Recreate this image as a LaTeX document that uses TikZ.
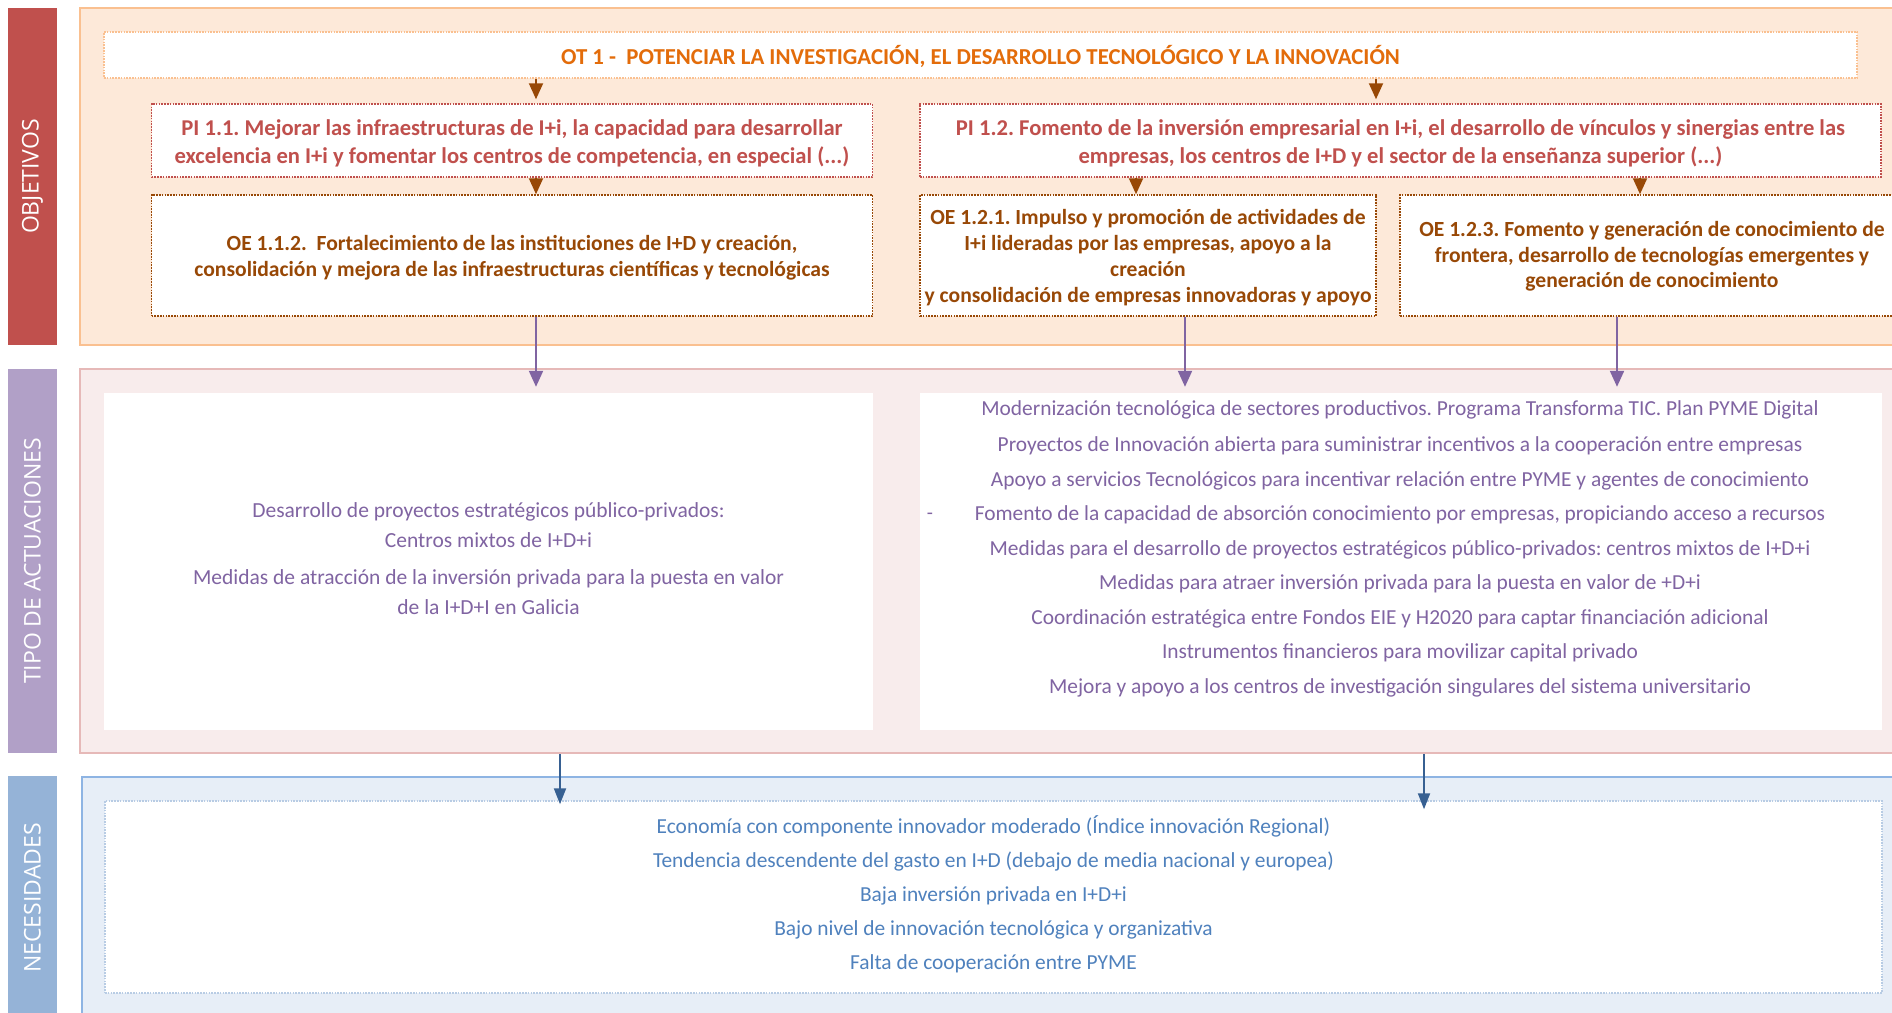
\documentclass[tikz,border=0pt]{standalone}
\usepackage{fontspec}
\setmainfont{Carlito}
\newfontfamily\barfont{Open Sans}
\usetikzlibrary{arrows.meta,calc}
\frenchspacing
\definecolor{objbar}{HTML}{C0504D}
\definecolor{actbar}{HTML}{B1A0C7}
\definecolor{necbar}{HTML}{95B3D7}
\definecolor{objfill}{HTML}{FDE9D9}
\definecolor{objline}{HTML}{FAC090}
\definecolor{actfill}{HTML}{F8ECEC}
\definecolor{actline}{HTML}{E6B9B8}
\definecolor{necfill}{HTML}{E7EEF7}
\definecolor{necline}{HTML}{8EB4E3}
\definecolor{otcol}{HTML}{E36C0A}
\definecolor{picol}{HTML}{C0504D}
\definecolor{oecol}{HTML}{984806}
\definecolor{actcol}{HTML}{8064A2}
\definecolor{neccol}{HTML}{4F81BD}
\definecolor{necarrow}{HTML}{376092}
\definecolor{necdot}{HTML}{B8CCE4}
\tikzset{
  panel/.style={rectangle, inner sep=0pt, line width=2pt},
  sidebar/.style={rectangle, inner sep=0pt, draw=none},
  barlabel/.style={text=white, rotate=90, font=\barfont\fontsize{23}{26}\selectfont},
  dotbox/.style={rectangle, inner sep=0pt, fill=white, line width=1.5pt, dash pattern=on 1.6pt off 1.2pt},
  plainbox/.style={rectangle, inner sep=0pt, fill=white, draw=none},
  txt/.style={align=center, inner sep=0pt},
  brarr/.style={draw=oecol, line width=2pt, -{Triangle[length=16pt,width=14pt]}, oecol},
  purarr/.style={draw=actcol, line width=2pt, -{Triangle[length=16pt,width=14pt]}, actcol},
  bluarr/.style={draw=necarrow, line width=2pt, -{Triangle[length=16pt,width=12pt]}, necarrow},
}
\begin{document}
\begin{tikzpicture}[x=1pt,y=-1pt]
\useasboundingbox (0,0) rectangle (1892,1012);
\begin{scope}
\clip (0,0) rectangle (1892,1012);
% side bars
\node[sidebar, fill=objbar, minimum width=49pt, minimum height=337pt] (barobj) at (32.5,176.5) {};
\node[sidebar, fill=actbar, minimum width=49pt, minimum height=384pt] (baract) at (32.5,561) {};
\node[sidebar, fill=necbar, minimum width=49pt, minimum height=244pt] (barnec) at (32.5,898) {};
\node[barlabel] (lblobj) at (barobj.center) {OBJETIVOS};
\node[barlabel] (lblact) at (baract.center) {TIPO DE ACTUACIONES};
\node[barlabel] (lblnec) at (barnec.center) {NECESIDADES};
% panels
\node[panel, fill=objfill, draw=objline, minimum width=1830pt, minimum height=337pt] (pobj) at (995,176.5) {};
\node[panel, fill=actfill, draw=actline, minimum width=1830pt, minimum height=384pt] (pact) at (995,561) {};
\node[panel, fill=necfill, draw=necline, minimum width=1830pt, minimum height=250pt] (pnec) at (997,902) {};
% objectives boxes
\node[dotbox, draw=objline, minimum width=1753pt, minimum height=46pt] (ot) at (980.5,55) {};
\node[dotbox, draw=picol, minimum width=721pt, minimum height=73pt] (pi11) at (512,140.5) {};
\node[dotbox, draw=picol, minimum width=961pt, minimum height=73pt] (pi12) at (1400.5,140.5) {};
\node[dotbox, draw=oecol, minimum width=721pt, minimum height=121pt] (oe112) at (512,255.5) {};
\node[dotbox, draw=oecol, minimum width=456pt, minimum height=121pt] (oe121) at (1148,255.5) {};
\node[dotbox, draw=oecol, minimum width=504pt, minimum height=121pt] (oe123) at (1652,255.5) {};
\node[txt, text=otcol, font=\bfseries\fontsize{22.8}{26}\selectfont] (ott) at ([yshift=-1pt]ot.center)
  {OT 1 -\ \ POTENCIAR LA INVESTIGACIÓN, EL DESARROLLO TECNOLÓGICO Y LA INNOVACIÓN};
\node[txt, text=picol, font=\bfseries\fontsize{22.6}{28}\selectfont] (pi11t) at ([yshift=-3pt]pi11.center)
  {PI 1.1. Mejorar las infraestructuras de I+i, la capacidad para desarrollar\\
   excelencia en I+i y fomentar los centros de competencia, en especial (...)};
\node[txt, text=picol, font=\bfseries\fontsize{22.6}{28}\selectfont] (pi12t) at ([yshift=-3pt]pi12.center)
  {PI 1.2. Fomento de la inversión empresarial en I+i, el desarrollo de vínculos y sinergias entre las\\
   empresas, los centros de I+D y el sector de la enseñanza superior (...)};
\node[txt, text=oecol, font=\bfseries\fontsize{21.6}{26}\selectfont] (oe112t) at ([yshift=-2.5pt]oe112.center)
  {OE 1.1.2.\ \ Fortalecimiento de las instituciones de I+D y creación,\\
   consolidación y mejora de las infraestructuras científicas y tecnológicas};
\node[txt, text=oecol, font=\bfseries\fontsize{21.6}{26}\selectfont] (oe121t) at ([yshift=-2pt]oe121.center)
  {OE 1.2.1. Impulso y promoción de actividades de\\
   I+i lideradas por las empresas, apoyo a la\\
   creación\\
   y consolidación de empresas innovadoras y apoyo};
\node[txt, text=oecol, font=\bfseries\fontsize{21.6}{25.5}\selectfont] (oe123t) at ([yshift=-1pt]oe123.center)
  {OE 1.2.3. Fomento y generación de conocimiento de\\
   frontera, desarrollo de tecnologías emergentes y\\
   generación de conocimiento};
% actuaciones boxes
\node[plainbox, minimum width=769pt, minimum height=337pt] (actL) at (488.5,561.5) {};
\node[txt, text=actcol, font=\fontsize{21.5}{30}\selectfont] (actLtext) at ([yshift=2.5pt]actL.center)
  {Desarrollo de proyectos estratégicos público-privados:\\
   Centros mixtos de I+D+i\\[7pt]
   Medidas de atracción de la inversión privada para la puesta en valor\\
   de la I+D+I en Galicia};
\node[plainbox, minimum width=962pt, minimum height=337pt] (actR) at (1401,561.5) {};
\node[txt, text=actcol, font=\fontsize{21.4}{34.5}\selectfont] (actRtext) at (1400,549)
  {Modernización tecnológica de sectores productivos. Programa Transforma TIC. Plan PYME Digital\\[1.5pt]
   Proyectos de Innovación abierta para suministrar incentivos a la cooperación entre empresas\\
   Apoyo a servicios Tecnológicos para incentivar relación entre PYME y agentes de conocimiento\\
   Fomento de la capacidad de absorción conocimiento por empresas, propiciando acceso a recursos\\
   Medidas para el desarrollo de proyectos estratégicos público-privados: centros mixtos de I+D+i\\
   Medidas para atraer inversión privada para la puesta en valor de +D+i\\
   Coordinación estratégica entre Fondos EIE y H2020 para captar financiación adicional\\
   Instrumentos financieros para movilizar capital privado\\
   Mejora y apoyo a los centros de investigación singulares del sistema universitario};
\node[text=actcol, font=\fontsize{20}{24}\selectfont, inner sep=0pt] (dash) at (930,516) {-};
% necesidades box
\node[dotbox, draw=necdot, fill=white, minimum width=1777pt, minimum height=192pt] (nec) at (993.5,897) {};
\node[txt, text=neccol, font=\fontsize{21.4}{34}\selectfont] (nect) at ([yshift=2.5pt]nec.center)
  {Economía con componente innovador moderado (Índice innovación Regional)\\
   Tendencia descendente del gasto en I+D (debajo de media nacional y europea)\\
   Baja inversión privada en I+D+i\\
   Bajo nivel de innovación tecnológica y organizativa\\
   Falta de cooperación entre PYME};
% arrow columns
\coordinate (ca) at (536,0);
\coordinate (cb) at (1376,0);
\coordinate (cc) at (1136,0);
\coordinate (cd) at (1640,0);
\coordinate (ce) at (1185,0);
\coordinate (cf) at (1617,0);
\coordinate (cg) at (560,0);
\coordinate (ch) at (1424,0);
\draw[brarr, shorten >=4pt] (ot.south -| ca) -- (pi11.north -| ca);
\draw[brarr, shorten >=4pt] (ot.south -| cb) -- (pi12.north -| cb);
\draw[brarr] (pi11.south -| ca) -- (oe112.north -| ca);
\draw[brarr] (pi12.south -| cc) -- (oe121.north -| cc);
\draw[brarr] (pi12.south -| cd) -- (oe123.north -| cd);
\draw[purarr, shorten >=6pt] (oe112.south -| ca) -- (actL.north -| ca);
\draw[purarr, shorten >=6pt] (oe121.south -| ce) -- (actR.north -| ce);
\draw[purarr, shorten >=6pt] (oe123.south -| cf) -- (actR.north -| cf);
\draw[bluarr, shorten >=-4pt] (pact.south -| cg) -- (nec.north -| cg);
\draw[bluarr, shorten >=-9pt] (pact.south -| ch) -- (nec.north -| ch);
\end{scope}
\end{tikzpicture}
\end{document}
